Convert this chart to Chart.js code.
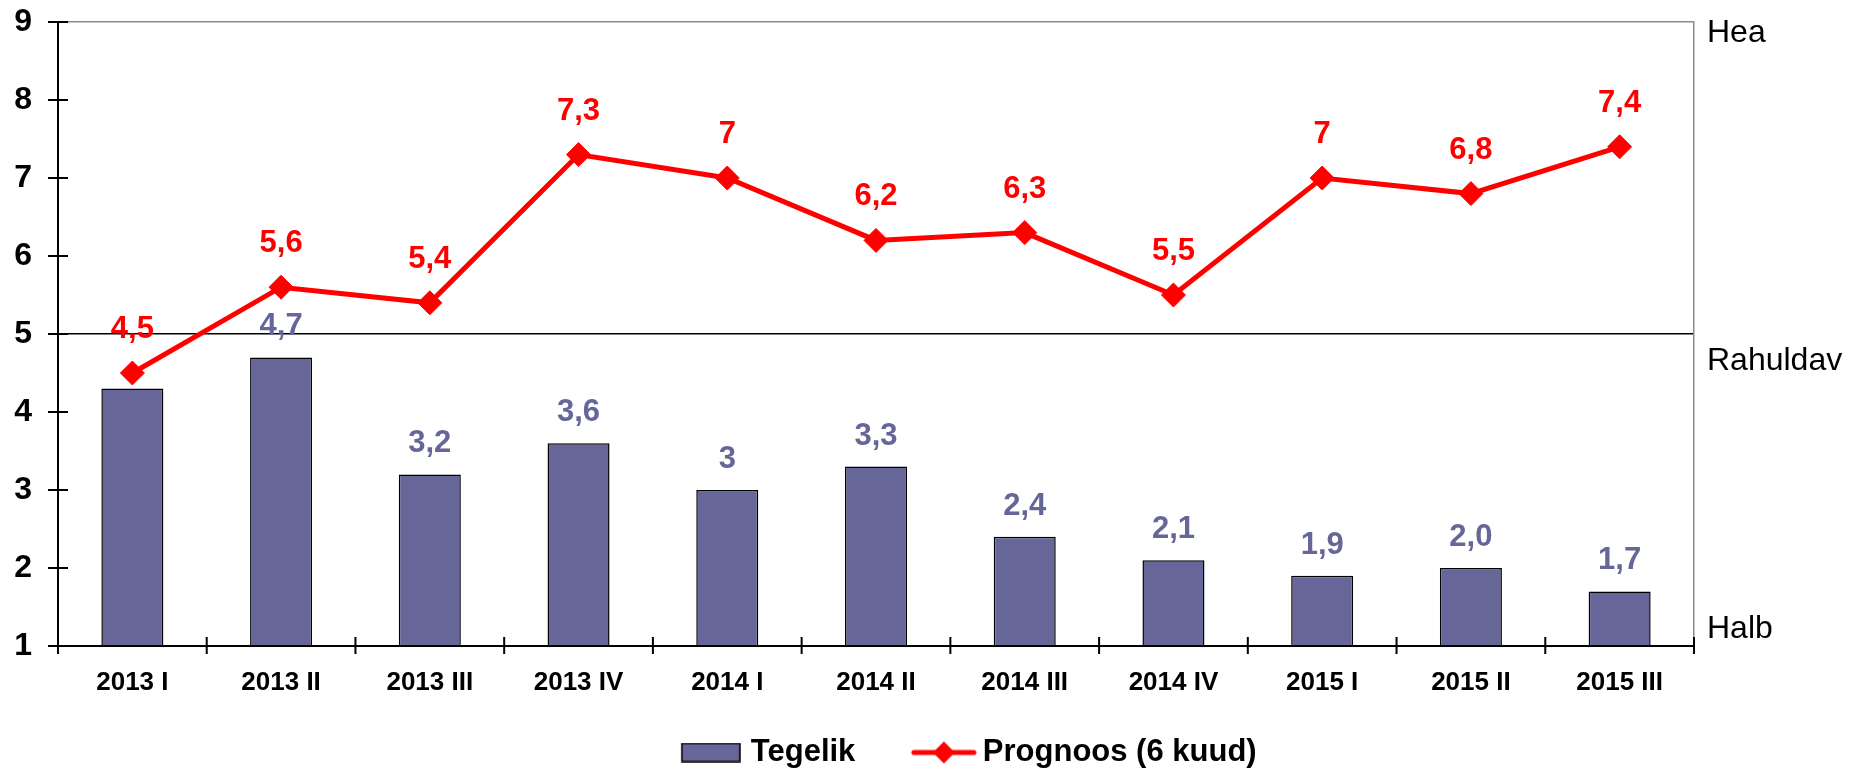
<!DOCTYPE html>
<html>
<head>
<meta charset="utf-8">
<script src="https://cdn.jsdelivr.net/npm/chart.js@4.4.1/dist/chart.umd.min.js"></script>
<style>
  html, body { margin: 0; padding: 0; background: #fff; }
  #wrap { width: 1860px; height: 771px; }
</style>
</head>
<body>
<div id="wrap"><canvas id="chart" width="1860" height="771"></canvas></div>
<script>
// quarters on the x axis
const categories = ['2013 I', '2013 II', '2013 III', '2013 IV', '2014 I', '2014 II', '2014 III', '2014 IV', '2015 I', '2015 II', '2015 III'];

// actual values (bars) and their printed labels
const tegelik = [4.3, 4.7, 3.2, 3.6, 3.0, 3.3, 2.4, 2.1, 1.9, 2.0, 1.7];
const tegelikText = ['', '4,7', '3,2', '3,6', '3', '3,3', '2,4', '2,1', '1,9', '2,0', '1,7'];

// 6 month forecast (line) and its printed labels
const prognoos = [4.5, 5.6, 5.4, 7.3, 7.0, 6.2, 6.3, 5.5, 7.0, 6.8, 7.4];
const prognoosText = ['4,5', '5,6', '5,4', '7,3', '7', '6,2', '6,3', '5,5', '7', '6,8', '7,4'];

// verbal scale on the right side
const ratingLabels = ['Hea', 'Rahuldav', 'Halb'];
const ratingValues = [8.86, 4.65, 1.22];

const barColor = '#666699';
const lineColor = '#ff0000';
const fontFamily = "'Liberation Sans', Arial, sans-serif";

// legend symbols, drawn flush right inside a wider transparent canvas
function makeBarSwatch() {
    const c = document.createElement('canvas');
    c.width = 101; c.height = 20;
    const g = c.getContext('2d');
    g.fillStyle = barColor;
    g.fillRect(42, 1, 58, 18);
    g.strokeStyle = '#000';
    g.lineWidth = 1.5;
    g.strokeRect(42, 1, 58, 18);
    return c;
}
function makeLineSwatch() {
    const c = document.createElement('canvas');
    c.width = 109; c.height = 24;
    const g = c.getContext('2d');
    const x0 = 43;
    g.strokeStyle = lineColor;
    g.lineWidth = 5;
    g.lineCap = 'round';
    g.beginPath(); g.moveTo(x0 + 3, 12); g.lineTo(x0 + 63, 12); g.stroke();
    g.fillStyle = lineColor;
    g.beginPath();
    g.moveTo(x0 + 33, 1); g.lineTo(x0 + 44, 12); g.lineTo(x0 + 33, 23); g.lineTo(x0 + 22, 12);
    g.closePath(); g.fill();
    return c;
}
const barSwatch = makeBarSwatch();
const lineSwatch = makeLineSwatch();

// value labels above bars and points
const valueLabels = {
    id: 'valueLabels',
    afterDatasetsDraw(chart) {
        const ctx = chart.ctx;
        ctx.save();
        ctx.font = 'bold 31px ' + fontFamily;
        ctx.textAlign = 'center';
        ctx.textBaseline = 'alphabetic';
        chart.data.datasets.forEach((ds, di) => {
            const meta = chart.getDatasetMeta(di);
            meta.data.forEach((el, i) => {
                const txt = ds.valueText[i];
                if (!txt) return;
                ctx.fillStyle = ds.labelColor;
                ctx.fillText(txt, el.x, el.y - ds.labelGap);
            });
        });
        ctx.restore();
    }
};

// tick marks that cross the axis lines
const crossTicks = {
    id: 'crossTicks',
    afterDraw(chart) {
        const { ctx, chartArea, scales: { x, y } } = chart;
        ctx.save();
        ctx.strokeStyle = '#000';
        ctx.lineWidth = 2;
        ctx.beginPath();
        y.ticks.forEach(t => {
            const py = y.getPixelForValue(t.value);
            ctx.moveTo(chartArea.left - 10, py);
            ctx.lineTo(chartArea.left + 10, py);
        });
        const step = x.getPixelForValue(1) - x.getPixelForValue(0);
        for (let k = 0; k <= categories.length; k++) {
            const px = x.getPixelForValue(0) - step / 2 + k * step;
            ctx.moveTo(px, chartArea.bottom - 9);
            ctx.lineTo(px, chartArea.bottom + 8);
        }
        ctx.stroke();
        ctx.restore();
    }
};

const ctx = document.getElementById('chart').getContext('2d');
new Chart(ctx, {
    data: {
        labels: categories,
        datasets: [{
            type: 'bar',
            label: 'Tegelik',
            data: tegelik,
            valueText: tegelikText,
            labelColor: barColor,
            labelGap: 22,
            yAxisID: 'y',
            base: 1,
            backgroundColor: barColor,
            borderColor: '#000',
            borderWidth: 1.5,
            barPercentage: 0.417,
            categoryPercentage: 1,
            order: 1
        }, {
            type: 'line',
            label: 'Prognoos (6 kuud)',
            data: prognoos,
            valueText: prognoosText,
            labelColor: lineColor,
            labelGap: 35,
            yAxisID: 'y',
            borderColor: lineColor,
            borderWidth: 5,
            tension: 0,
            fill: false,
            pointStyle: 'rectRot',
            pointRadius: 12,
            pointBackgroundColor: lineColor,
            pointBorderColor: lineColor,
            pointBorderWidth: 1,
            order: 0
        }]
    },
    options: {
        responsive: false,
        animation: false,
        devicePixelRatio: 1,
        layout: { padding: { top: 22, left: 0, right: -42, bottom: 0 } },
        plugins: {
            tooltip: { enabled: false },
            legend: {
                position: 'bottom',
                maxHeight: 56,
                labels: {
                    usePointStyle: true,
                    pointStyleWidth: 90,
                    padding: 22,
                    color: '#000',
                    font: { size: 31, weight: 'bold', family: fontFamily },
                    generateLabels: () => [
                        { text: 'Tegelik', pointStyle: barSwatch, fillStyle: barColor, strokeStyle: '#000', lineWidth: 0, hidden: false, datasetIndex: 0, fontColor: '#000' },
                        { text: 'Prognoos (6 kuud)', pointStyle: lineSwatch, fillStyle: lineColor, strokeStyle: lineColor, lineWidth: 0, hidden: false, datasetIndex: 1, fontColor: '#000' }
                    ]
                }
            }
        },
        scales: {
            x: {
                type: 'category',
                offset: true,
                grid: { display: false, drawTicks: false },
                border: { color: '#000', width: 2 },
                ticks: {
                    color: '#000',
                    font: { size: 26, weight: 'bold', family: fontFamily },
                    padding: 21,
                    maxRotation: 0,
                    autoSkip: false
                },
                afterFit: s => { s.height = 69; }
            },
            y: {
                position: 'left',
                min: 1,
                max: 9,
                ticks: {
                    stepSize: 1,
                    color: '#000',
                    font: { size: 32, weight: 'bold', family: fontFamily },
                    padding: 26
                },
                grid: {
                    drawTicks: false,
                    lineWidth: 1.5,
                    color: c => c.tick.value === 5 ? '#000' : (c.tick.value === 9 ? '#8c8c8c' : 'rgba(0,0,0,0)')
                },
                border: { color: '#000', width: 2 },
                afterFit: s => { s.width = 58; s.paddingTop = 0; s.paddingBottom = 0; }
            },
            y2: {
                position: 'right',
                min: 1,
                max: 9,
                grid: { display: false, drawTicks: false },
                border: { color: '#8c8c8c', width: 1.5 },
                ticks: {
                    color: '#000',
                    font: { size: 32, family: fontFamily },
                    padding: 13,
                    callback: (v, i) => ratingLabels[i]
                },
                afterBuildTicks: s => { s.ticks = ratingValues.map(v => ({ value: v })); },
                afterFit: s => { s.width = 208; s.paddingTop = 0; s.paddingBottom = 0; }
            }
        }
    },
    plugins: [valueLabels, crossTicks]
});
</script>
</body>
</html>
